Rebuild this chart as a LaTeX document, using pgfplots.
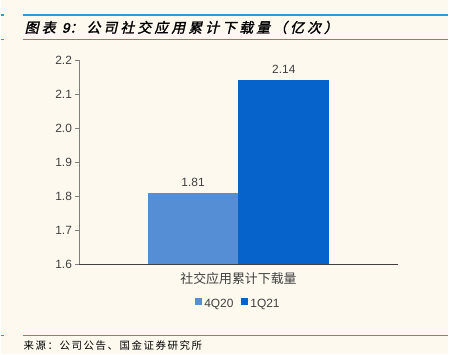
\documentclass[border=0pt]{standalone}
\usepackage{fontspec}
\setmainfont{Liberation Sans}
\newfontfamily\cjk{Noto Sans CJK SC}
\newfontfamily\cjktitle[FakeSlant=0.22,FakeBold=1.6,LetterSpace=22]{Noto Sans CJK SC}
\newfontfamily\cjksrc[LetterSpace=15]{Noto Sans CJK SC}
\newfontfamily\latintitle[FakeSlant=0.22,FakeBold=1.6]{Liberation Sans}
\usepackage{pgfplots}
\pgfplotsset{compat=1.18}
\definecolor{bg}{HTML}{FDF9EF}
\definecolor{lineblue}{HTML}{20A0E0}
\definecolor{barA}{HTML}{558ED5}
\definecolor{barB}{HTML}{0563CB}
\definecolor{txt}{HTML}{404040}
\begin{document}
\begin{tikzpicture}[x=1bp,y=1bp]
\fill[bg] (0,0) rectangle (449,-355);
% header lines
\draw[lineblue,line width=1.2bp] (0,-15) -- (3,-15);
\draw[lineblue,line width=1.2bp] (22,-15) -- (449,-15);
\draw[lineblue,line width=1.2bp] (0,-40) -- (3,-40);
\draw[lineblue,line width=1.2bp] (22,-40) -- (449,-40);
\node[anchor=west,inner sep=0] at (24,-27.5) {\fontsize{14}{16}\selectfont\cjktitle 图表 \latintitle 9\cjktitle ：公司社交应用累计下载量（亿次）};
% footer lines
\draw[lineblue,line width=1.2bp] (0,-336) -- (3,-336);
\draw[lineblue,line width=1.2bp] (22,-336) -- (449,-336);
\node[anchor=west,inner sep=0] at (23,-346) {\fontsize{10.5}{12}\selectfont\cjksrc 来源：公司公告、国金证券研究所};
\begin{axis}[
  at={(79bp,-265bp)}, anchor=south west,
  scale only axis, width=319bp, height=205bp,
  xmin=-1, xmax=1, ymin=1.6, ymax=2.2,
  ytick={1.6,1.7,...,2.2},
  yticklabel style={font=\fontsize{12}{14}\selectfont, color=txt},
  y tick label style={/pgf/number format/fixed, /pgf/number format/fixed zerofill, /pgf/number format/precision=1, /pgf/number format/assume math mode=true},
  xtick={0}, xticklabels={社交应用累计下载量},
  xticklabel style={font=\fontsize{13}{15}\selectfont\cjk, color=txt, yshift=-1bp},
  x tick style={draw=none},
  extra x ticks={-1,1}, extra x tick labels={},
  extra x tick style={tick style={draw=txt}},
  axis x line*=bottom, axis y line*=left,
  x axis line style={-, draw=txt, line width=0.8bp},
  y axis line style={-, draw=gray, line width=0.8bp},
  y tick style={draw=gray, line width=0.6bp},
  tick align=outside, major tick length=4bp,
  ybar, bar width=91bp,
  nodes near coords,
  nodes near coords style={font=\fontsize{12}{14}\selectfont, color=txt, yshift=3bp, /pgf/number format/fixed, /pgf/number format/precision=2, /pgf/number format/assume math mode=true},
  legend style={at={(0.5,-0.195)}, anchor=center, draw=none, fill=none,
     legend columns=2, font=\fontsize{12}{14}\selectfont, text=txt,
     /tikz/every even column/.append style={column sep=6bp}},
  clip=false,
]
\addplot[fill=barA, draw=none, bar shift=-45.5bp,
  legend image code/.code={\fill[barA] (0,-1bp) rectangle (7bp,6bp);}] coordinates {(0,1.81)};
\addplot[fill=barB, draw=none, bar shift=45.5bp,
  legend image code/.code={\fill[barB] (0,-1bp) rectangle (7bp,6bp);}] coordinates {(0,2.14)};
\legend{4Q20,1Q21}
\end{axis}
\end{tikzpicture}
\end{document}
